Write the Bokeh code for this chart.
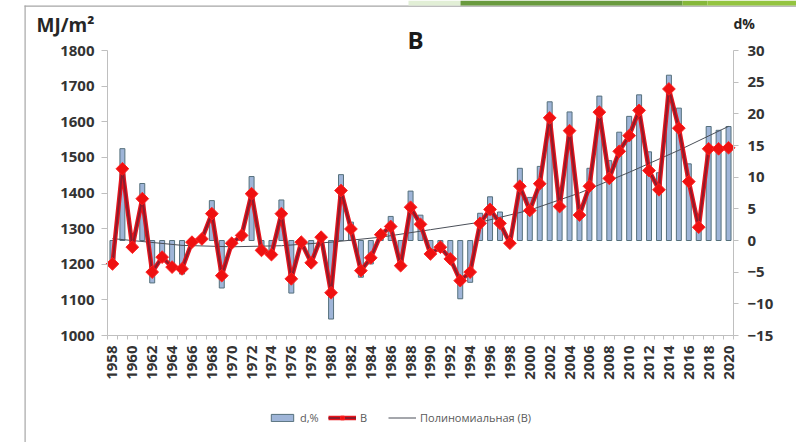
import math
from bokeh.plotting import figure
from bokeh.models import (Range1d, LinearAxis, FixedTicker, Label, Legend,
                          LegendItem, BoxAnnotation)
from bokeh.embed import file_html
from bokeh.resources import INLINE

# ---------------- data ----------------
years = list(range(1958, 2021))
b_values = [1201, 1468, 1248, 1384, 1178, 1220, 1192, 1187, 1262, 1271,
            1342, 1168, 1259, 1281, 1398, 1239, 1227, 1342, 1159, 1262,
            1204, 1276, 1120, 1407, 1299, 1182, 1218, 1283, 1306, 1196,
            1360, 1312, 1229, 1248, 1215, 1154, 1178, 1315, 1354, 1315,
            1259, 1419, 1351, 1426, 1611, 1362, 1575, 1338, 1419, 1627,
            1441, 1517, 1561, 1632, 1463, 1409, 1692, 1582, 1432, 1304,
            1524, 1524, 1527]
d_values = [-3.8, 14.5, -1.0, 9.0, -6.7, -3.2, -4.7, -5.3, 0.3, 0.5,
            6.3, -7.5, -0.7, 1.0, 10.1, -1.5, -2.1, 6.4, -8.3, -0.5,
            -4.0, 0.5, -12.4, 10.4, 2.9, -5.8, -3.7, 1.3, 3.8, -4.5,
            7.8, 4.0, -2.6, -1.6, -3.4, -9.2, -6.6, 4.3, 6.9, 4.5,
            -0.5, 11.4, 6.8, 11.7, 21.9, 7.1, 20.3, 5.5, 11.4, 22.8,
            12.6, 17.1, 19.6, 23.0, 14.0, 10.7, 26.1, 20.9, 12.1, 1.8,
            18.0, 17.4, 18.0]
trend_years = [1958, 1965, 1970, 1975, 1980, 1985, 1990, 1995, 2000, 2005,
               2010, 2015, 2020]
trend_values = [1272, 1253, 1249, 1252, 1262, 1276, 1297, 1318, 1352, 1400,
                1458, 1520, 1587]
left_ticks = [1000, 1100, 1200, 1300, 1400, 1500, 1600, 1700, 1800]
right_ticks = [-15, -10, -5, 0, 5, 10, 15, 20, 25, 30]
year_labels = years[::2]
title_text = "B"
left_unit = "MJ/m²"
right_unit = "d%"
legend_labels = ["d,%", "B", "Полиномиальная (B)"]

FONT = "Open Sans"
TXT = "#333333"
AXC = "#bfbfbf"
BORDER = "#a6a6a6"

# ---------------- layout (page pixels) ----------------
W, H = 796, 442
PL, PR, PT, PB = 107, 733, 50, 335   # plot area edges

x0, x1 = years[0] - 0.5, years[-1] + 0.5
xs = (x1 - x0) / (PR - PL)
ly0, ly1 = left_ticks[0], left_ticks[-1]
lys = (ly1 - ly0) / (PB - PT)
ry0, ry1 = right_ticks[0], right_ticks[-1]
rys = (ry1 - ry0) / (PB - PT)

p = figure(width=W, height=H, output_backend="svg", toolbar_location=None,
           x_range=Range1d(x0 - PL * xs, x1 + (W - PR) * xs),
           y_range=Range1d(ly0 - (H - PB) * lys, ly1 + PT * lys),
           min_border=0)
p.extra_y_ranges = {"d": Range1d(ry0 - (H - PB) * rys, ry1 + PT * rys)}
p.outline_line_color = None
p.xgrid.visible = False
p.ygrid.visible = False
p.background_fill_color = "white"
p.border_fill_color = "white"

# ---------------- glyphs ----------------
bars = p.vbar(x=years, top=d_values, bottom=0, width=0.5, y_range_name="d",
              fill_color="#9fb5d8", line_color="#55707c", line_width=1)
trend = p.line(trend_years, trend_values, line_color="#4a4f58", line_width=1)
l1 = p.line(years, b_values, line_color="#e8141c", line_width=4.5)
l2 = p.line(years, b_values, line_color="#8c1c2c", line_width=2)
mk = p.scatter(years, b_values, marker="square", angle=math.pi / 4, size=9,
               fill_color="#ee1111", line_color="#ff2020", line_width=1)


# ---------------- axes ----------------
def style_axis(ax):
    ax.axis_line_color = AXC
    ax.major_tick_line_color = AXC
    ax.major_tick_in = 0
    ax.minor_tick_line_color = None
    ax.major_label_text_font = FONT
    ax.major_label_text_font_style = "bold"
    ax.major_label_text_font_size = "15px"
    ax.major_label_text_color = TXT


ly = p.yaxis[0]
ly.ticker = FixedTicker(ticks=left_ticks)
ly.bounds = (ly0, ly1)
ly.fixed_location = x0
style_axis(ly)
ly.major_tick_out = 6
ly.major_label_standoff = 7

ry = LinearAxis(y_range_name="d", ticker=FixedTicker(ticks=right_ticks),
                bounds=(ry0, ry1), fixed_location=x1)
style_axis(ry)
ry.major_tick_out = 5
ry.major_label_standoff = 9
p.add_layout(ry, "right")

bx = p.xaxis[0]
bx.ticker = FixedTicker(ticks=year_labels,
                        minor_ticks=[y - 0.5 for y in years] + [x1])
bx.bounds = (x0, x1)
bx.fixed_location = ly0
style_axis(bx)
bx.major_tick_line_color = None
bx.major_tick_out = 4
bx.minor_tick_line_color = AXC
bx.minor_tick_out = 4
bx.minor_tick_in = 0
bx.major_label_orientation = math.pi / 2
bx.major_label_standoff = 6

# ---------------- titles ----------------
p.add_layout(Label(x=36, y=24, x_units="canvas", y_units="canvas", text=left_unit,
                   text_font=FONT, text_font_style="bold", text_font_size="19px",
                   text_color="#262626", text_baseline="alphabetic"))
p.add_layout(Label(x=733, y=23, x_units="canvas", y_units="canvas", text=right_unit,
                   text_font=FONT, text_font_style="bold", text_font_size="14px",
                   text_color="#262626", text_baseline="alphabetic"))
p.add_layout(Label(x=415, y=39, x_units="canvas", y_units="canvas", text=title_text,
                   text_font=FONT, text_font_style="bold", text_font_size="24px",
                   text_color="#1a1a1a", text_align="center",
                   text_baseline="alphabetic"))


# ---------------- slide decorations ----------------
def cbox(l, r, t, b, color):
    return BoxAnnotation(left=l, right=r, top=t, bottom=b,
                         left_units="canvas", right_units="canvas",
                         top_units="canvas", bottom_units="canvas",
                         fill_color=color, fill_alpha=1, line_color=None,
                         level="underlay")


p.add_layout(cbox(24, 25.2, 5, H, BORDER))
p.add_layout(cbox(24, W, 5, 6.3, BORDER))
p.add_layout(cbox(408, 460, 0, 5, "#e2efd6"))
p.add_layout(cbox(460, 682, 0, 5, "#6a9b3f"))
p.add_layout(cbox(682, 707, 0, 5, "#86b83a"))
p.add_layout(cbox(707, W, 0, 5, "#94c440"))

# ---------------- legend ----------------
legend = Legend(items=[LegendItem(label=legend_labels[0], renderers=[bars]),
                       LegendItem(label=legend_labels[1], renderers=[l1, l2, mk]),
                       LegendItem(label=legend_labels[2], renderers=[trend])],
                orientation="horizontal", location=(268, 17),
                background_fill_alpha=0, border_line_color=None,
                label_text_font=FONT, label_text_font_size="11px",
                label_text_color="#595959", glyph_width=28, glyph_height=9,
                spacing=8, label_standoff=4, padding=0, margin=0)
p.add_layout(legend, "center")

open("out.html", "w").write(file_html(p, INLINE))
